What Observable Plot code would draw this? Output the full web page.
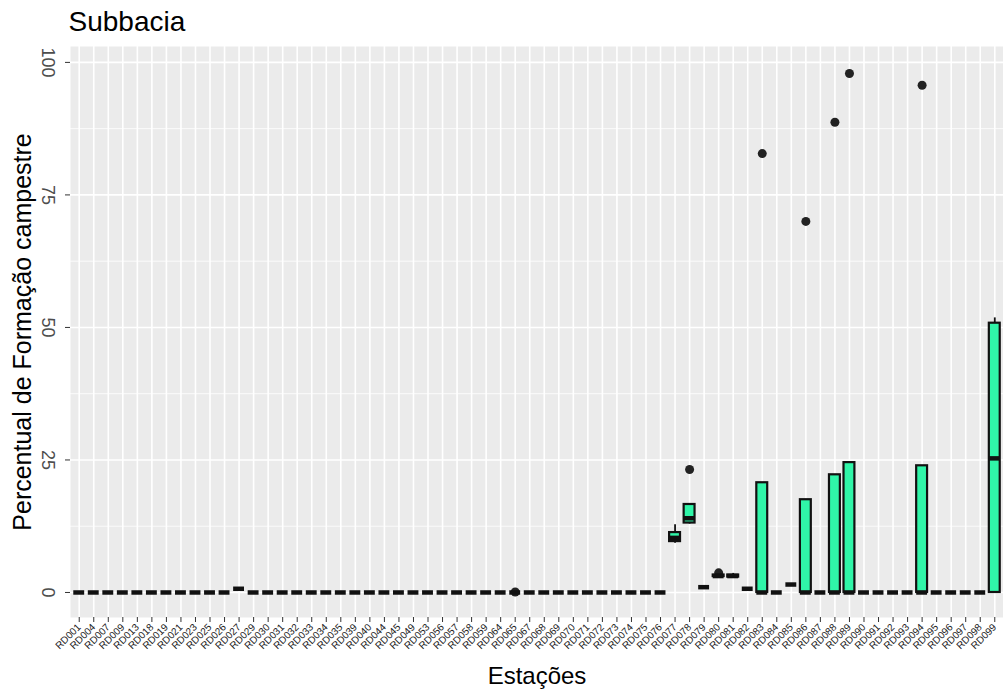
<!DOCTYPE html>
<html>
<head>
<meta charset="utf-8">
<script src="https://cdn.jsdelivr.net/npm/d3@7"></script>
<script src="https://cdn.jsdelivr.net/npm/@observablehq/plot@0.6"></script>
<style>
  body { margin: 0; background: #fff; font-family: "Liberation Sans", Arial, sans-serif; }
</style>
</head>
<body>
<div id="chart"></div>
<script>
const stations = ["RD001","RD004","RD007","RD009","RD013","RD018","RD019","RD021","RD023","RD025",
  "RD026","RD027","RD029","RD030","RD031","RD032","RD033","RD034","RD035","RD039",
  "RD040","RD044","RD045","RD049","RD053","RD056","RD057","RD058","RD059","RD064",
  "RD065","RD067","RD068","RD069","RD070","RD071","RD072","RD073","RD074","RD075",
  "RD076","RD077","RD078","RD079","RD080","RD081","RD082","RD083","RD084","RD085",
  "RD086","RD087","RD088","RD089","RD090","RD091","RD092","RD093","RD094","RD095",
  "RD096","RD097","RD098","RD099"];

const q1Vals = [0,0,0,0,0,0,0,0,0,0, 0,0.7,0,0,0,0,0,0,0,0, 0,0,0,0,0,0,0,0,0,0,
  0,0,0,0,0,0,0,0,0,0, 0,9.6,13.1,1.0,3.0,2.9,0.7,0,0,1.5, 0,0,0,0,0,0,0,0,0,0, 0,0,0,0];
const medianVals = [0,0,0,0,0,0,0,0,0,0, 0,0.7,0,0,0,0,0,0,0,0, 0,0,0,0,0,0,0,0,0,0,
  0,0,0,0,0,0,0,0,0,0, 0,10.3,14.0,1.0,3.1,3.1,0.7,0,0,1.5, 0,0,0,0,0,0,0,0,0,0, 0,0,0,25.3];
const q3Vals = [0,0,0,0,0,0,0,0,0,0, 0,0.7,0,0,0,0,0,0,0,0, 0,0,0,0,0,0,0,0,0,0,
  0,0,0,0,0,0,0,0,0,0, 0,11.3,16.6,1.0,3.3,3.3,0.7,20.7,0,1.5, 17.5,0,22.2,24.5,0,0,0,0,23.9,0, 0,0,0,50.8];
const whiskerLow = [0,0,0,0,0,0,0,0,0,0, 0,0.7,0,0,0,0,0,0,0,0, 0,0,0,0,0,0,0,0,0,0,
  0,0,0,0,0,0,0,0,0,0, 0,9.3,12.9,1.0,3.0,2.9,0.7,0,0,1.5, 0,0,0,0,0,0,0,0,0,0, 0,0,0,0];
const whiskerHigh = [0,0,0,0,0,0,0,0,0,0, 0,0.7,0,0,0,0,0,0,0,0, 0,0,0,0,0,0,0,0,0,0,
  0,0,0,0,0,0,0,0,0,0, 0,12.8,16.6,1.0,3.3,3.6,0.7,20.7,0,1.5, 17.5,0,22.2,24.5,0,0,0,0,23.9,0, 0,0,0,51.8];

const outlierStations = ["RD065","RD078","RD080","RD083","RD086","RD088","RD089","RD094"];
const outlierValues   = [0.1, 23.2, 3.7, 82.8, 70.0, 88.7, 97.9, 95.7];

const yTicks = [0, 25, 50, 75, 100];
const yMinor = [12.5, 37.5, 62.5, 87.5];

const titleText = "Subbacia";
const xLabel = "Estações";
const yLabel = "Percentual de Formação campestre";

const boxes = stations.map((s, i) => ({
  station: s, q1: q1Vals[i], median: medianVals[i], q3: q3Vals[i],
  lo: whiskerLow[i], hi: whiskerHigh[i]
}));
const outliers = outlierStations.map((s, i) => ({station: s, value: outlierValues[i]}));

const fillColor = "#30f5a8";

const chart = Plot.plot({
  width: 1003,
  height: 692,
  marginLeft: 70,
  marginRight: 0,
  marginTop: 46,
  marginBottom: 75,
  style: {fontFamily: "Liberation Sans, Arial, sans-serif", background: "#fff"},
  x: {type: "band", domain: stations, paddingInner: 0.25, paddingOuter: 0.225, align: 0.5},
  y: {domain: [-4.72, 103.0]},
  marks: [
    Plot.frame({fill: "#ebebeb", stroke: "none"}),
    Plot.gridY(yMinor, {stroke: "white", strokeOpacity: 1, strokeWidth: 0.8}),
    Plot.gridY(yTicks, {stroke: "white", strokeOpacity: 1, strokeWidth: 1.6}),
    Plot.gridX({stroke: "white", strokeOpacity: 1, strokeWidth: 1.6}),
    Plot.axisY(yTicks, {tickSize: 5, tickFormat: () => "", stroke: "#333", label: null}),
    Plot.text(yTicks, {y: d => d, text: d => String(d), frameAnchor: "left", dx: -23,
      textAnchor: "middle", lineAnchor: "middle", rotate: 90, fontSize: 18, fill: "#4d4d4d"}),
    Plot.axisX({tickRotate: -45, tickSize: 5, tickPadding: 3, fontSize: 10, label: null,
      stroke: "#333", fill: "#222"}),
    Plot.dot(outliers, {x: "station", y: "value", r: 4.5, fill: "#222", stroke: "none"}),
    Plot.ruleX(boxes, {x: "station", y1: "lo", y2: "q1", stroke: "#111", strokeWidth: 1.8}),
    Plot.ruleX(boxes, {x: "station", y1: "q3", y2: "hi", stroke: "#111", strokeWidth: 1.8}),
    Plot.barY(boxes, {x: "station", y1: "q1", y2: "q3", fill: fillColor, stroke: "#111", strokeWidth: 2.2}),
    Plot.tickY(boxes, {x: "station", y: "median", stroke: "#111", strokeWidth: 4.5}),
    Plot.text([titleText], {frameAnchor: "top-left", dx: -2, dy: -16, lineAnchor: "bottom",
      textAnchor: "start", fontSize: 28, fill: "#000"}),
    Plot.text([yLabel], {frameAnchor: "left", dx: -48, rotate: -90, textAnchor: "middle",
      lineAnchor: "middle", fontSize: 25, fill: "#000"}),
    Plot.text([xLabel], {frameAnchor: "bottom", dy: 59, lineAnchor: "middle", textAnchor: "middle",
      fontSize: 24, fill: "#000"})
  ]
});
document.getElementById("chart").appendChild(chart);
</script>
</body>
</html>
